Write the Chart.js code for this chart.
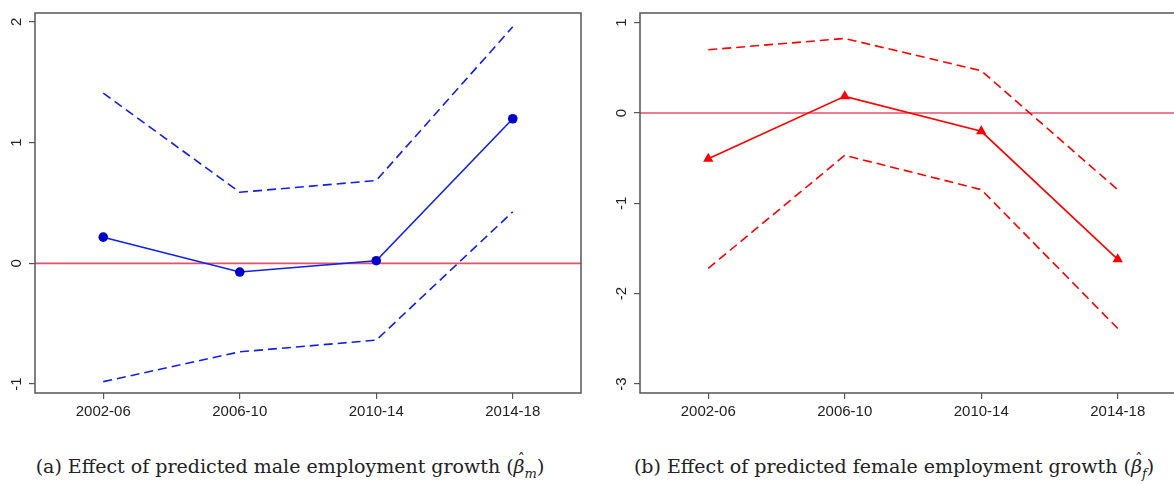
<!DOCTYPE html>
<html>
<head>
<meta charset="utf-8">
<script src="https://cdn.jsdelivr.net/npm/chart.js@4.4.1/dist/chart.umd.min.js"></script>
<style>
  html, body { margin: 0; padding: 0; background: #fff; width: 1174px; height: 484px; overflow: hidden; }
  .wrap { position: absolute; top: 0; width: 600px; height: 420px; }
  .cap { position: absolute; top: 455px; width: 600px; text-align: center; font-family: "DejaVu Serif", "Liberation Serif", serif; font-size: 19px; color: #222; white-space: nowrap; }
  .cap sub { font-size: 13px; }
  .hat { position: relative; display: inline-block; }
  .hat .h { position: absolute; left: 4px; top: -5px; font-style: normal; font-size: 15px; }
</style>
</head>
<body>
<div class="wrap" style="left:0px"><canvas id="cMale" width="600" height="420"></canvas></div>
<div class="wrap" style="left:605px"><canvas id="cFemale" width="600" height="420"></canvas></div>
<div class="cap" style="left:-10px">(a) Effect of predicted male employment growth (<span class="hat"><i>β</i><span class="h">ˆ</span></span><sub><i>m</i></sub>)</div>
<div class="cap" style="left:594px">(b) Effect of predicted female employment growth (<span class="hat"><i>β</i><span class="h">ˆ</span></span><sub><i>f</i></sub>)</div>
<script>
const categories = ['2002-06', '2006-10', '2010-14', '2014-18'];

const maleEst   = [0.217, -0.072, 0.022, 1.198];
const maleUpper = [1.41, 0.589, 0.686, 1.96];
const maleLower = [-0.98, -0.733, -0.636, 0.427];
const maleYTicks = [-1, 0, 1, 2];

const femaleEst   = [-0.506, 0.184, -0.203, -1.62];
const femaleUpper = [0.70, 0.825, 0.468, -0.85];
const femaleLower = [-1.72, -0.469, -0.848, -2.386];
const femaleYTicks = [-3, -2, -1, 0, 1];

const refLine = 0;

const AXIS_COL = '#555';
const TEXT_COL = '#222';
const FONT = '"Liberation Sans", Arial, sans-serif';

const boxPlugin = {
  id: 'rbox',
  beforeDatasetsDraw(chart) {
    const { ctx, chartArea: a, scales } = chart;
    const y0 = scales.y.getPixelForValue(refLine);
    ctx.save();
    ctx.strokeStyle = '#DF536B';
    ctx.lineWidth = 1.6;
    ctx.beginPath();
    ctx.moveTo(a.left, y0);
    ctx.lineTo(a.right, y0);
    ctx.stroke();
    ctx.restore();
  },
  afterDraw(chart) {
    const { ctx, chartArea: a, scales } = chart;
    ctx.save();
    ctx.strokeStyle = AXIS_COL;
    ctx.lineWidth = 1.5;
    ctx.strokeRect(a.left, a.top, a.right - a.left, a.bottom - a.top);
    ctx.fillStyle = TEXT_COL;
    ctx.font = '15px ' + FONT;
    ctx.textAlign = 'center';
    ctx.textBaseline = 'middle';
    scales.y.ticks.forEach(t => {
      const py = scales.y.getPixelForValue(t.value);
      ctx.save();
      ctx.translate(a.left - 18, py);
      ctx.rotate(-Math.PI / 2);
      ctx.fillText(String(t.value), 0, 0);
      ctx.restore();
    });
    ctx.restore();
  }
};

function makeChart(id, est, up, lo, yTicks, ymin, ymax, color, ptColor, ptStyle, ptRadius) {
  const dashed = (data) => ({
    data, borderColor: color, borderWidth: 1.6, borderDash: [9, 5],
    pointRadius: 0, fill: false, tension: 0
  });
  return new Chart(document.getElementById(id), {
    type: 'line',
    data: {
      labels: categories,
      datasets: [
        dashed(up),
        dashed(lo),
        {
          data: est, borderColor: color, borderWidth: 1.6,
          pointStyle: ptStyle, pointRadius: ptRadius, pointBackgroundColor: ptColor,
          pointBorderColor: ptColor, pointBorderWidth: 0, fill: false, tension: 0
        }
      ]
    },
    options: {
      responsive: false,
      animation: false,
      events: [],
      layout: { padding: { top: 13, right: 19, left: 0, bottom: 0 } },
      plugins: { legend: { display: false }, tooltip: { enabled: false } },
      scales: {
        x: {
          type: 'category',
          offset: true,
          grid: { offset: false, drawOnChartArea: false, drawTicks: true, tickLength: 6, color: AXIS_COL, lineWidth: 1.2 },
          border: { display: false },
          ticks: { color: TEXT_COL, font: { family: FONT, size: 15 }, padding: 4, maxRotation: 0, minRotation: 0 },
          afterFit: s => { s.height = 27; }
        },
        y: {
          type: 'linear',
          min: ymin, max: ymax,
          afterBuildTicks: s => { s.ticks = yTicks.map(v => ({ value: v })); },
          grid: { drawOnChartArea: false, drawTicks: true, tickLength: 6, color: AXIS_COL, lineWidth: 1.2 },
          border: { display: false },
          ticks: { display: false },
          afterFit: s => { s.width = 35; }
        }
      }
    },
    plugins: [boxPlugin]
  });
}

makeChart('cMale', maleEst, maleUpper, maleLower, maleYTicks, -1.074, 2.074, '#1020E8', '#0000C8', 'circle', 4.8);
makeChart('cFemale', femaleEst, femaleUpper, femaleLower, femaleYTicks, -3.1, 1.107, '#FF0000', '#FF0000', 'triangle', 6);
</script>
</body>
</html>
